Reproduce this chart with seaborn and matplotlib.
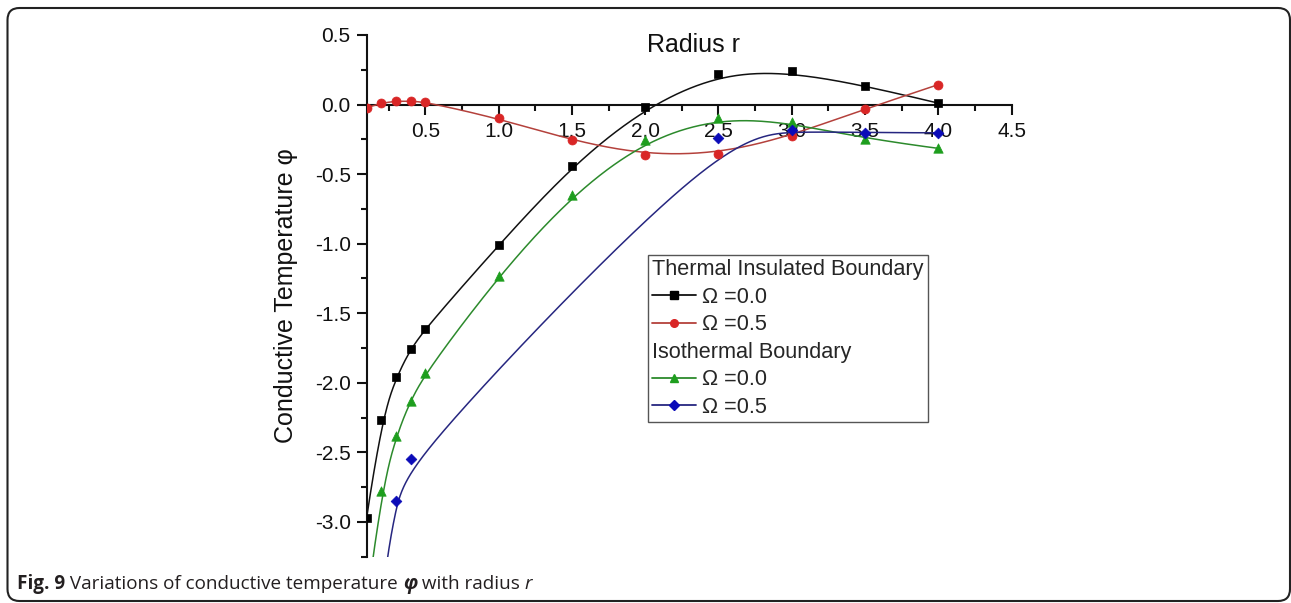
import numpy as np
import pandas as pd
import matplotlib
matplotlib.use("Agg")
import matplotlib.pyplot as plt
from matplotlib.lines import Line2D
from matplotlib.patches import FancyBboxPatch
from matplotlib.ticker import MultipleLocator, FixedLocator
import seaborn as sns

# ---- data -------------------------------------------------------------
r_ins = [0.1, 0.2, 0.3, 0.4, 0.5, 1.0, 1.5, 2.0, 2.5, 3.0, 3.5, 4.0]
phi_ins_00 = [-2.97, -2.27, -1.96, -1.76, -1.61, -1.01, -0.44, -0.02, 0.22, 0.24, 0.136, 0.01]
phi_ins_05 = [-0.024, 0.012, 0.024, 0.024, 0.019, -0.10, -0.258, -0.363, -0.353, -0.227, -0.031, 0.143]

r_iso_00 = [0.1, 0.2, 0.3, 0.4, 0.5, 1.0, 1.5, 2.0, 2.5, 3.0, 3.5, 4.0]
phi_iso_00 = [-3.6, -2.78, -2.38, -2.13, -1.93, -1.23, -0.65, -0.256, -0.095, -0.127, -0.246, -0.315]

r_iso_05 = [0.1, 0.2, 0.3, 0.4, 2.5, 3.0, 3.5, 4.0]
phi_iso_05 = [-4.6, -3.5, -2.85, -2.55, -0.244, -0.186, -0.203, -0.203]

x_ticks = [0.5, 1.0, 1.5, 2.0, 2.5, 3.0, 3.5, 4.0, 4.5]
y_ticks = [0.5, 0.0, -0.5, -1.0, -1.5, -2.0, -2.5, -3.0]

group_titles = ["Thermal Insulated Boundary", "Isothermal Boundary"]
omega_labels = ["\u03a9 =0.0", "\u03a9 =0.5"]


def bspline(xs, ys, n=600, k=3):
    """Clamped uniform cubic B-spline using the data points as control points."""
    P = np.column_stack([xs, ys]).astype(float)
    m = len(P)
    knots = np.concatenate([np.zeros(k), np.linspace(0, 1, m - k + 1), np.ones(k)])
    t = np.linspace(0, 1, n)
    N = np.zeros((n, len(knots) - 1))
    for i in range(len(knots) - 1):
        N[:, i] = (knots[i] <= t) & (t < knots[i + 1])
    N[-1, m - 1] = 1.0
    for d in range(1, k + 1):
        Nn = np.zeros((n, len(knots) - 1 - d))
        for i in range(len(knots) - 1 - d):
            a = knots[i + d] - knots[i]
            b = knots[i + d + 1] - knots[i + 1]
            left = (t - knots[i]) / a * N[:, i] if a > 0 else 0.0
            right = (knots[i + d + 1] - t) / b * N[:, i + 1] if b > 0 else 0.0
            Nn[:, i] = left + right
        N = Nn
    C = N[:, :m] @ P
    return C[:, 0], C[:, 1]


series = [
    dict(x=r_ins, y=phi_ins_00, line="#111111", face="#000000", marker="s", s=34),
    dict(x=r_ins, y=phi_ins_05, line="#B4413C", face="#D92626", marker="o", s=42),
    dict(x=r_iso_00, y=phi_iso_00, line="#2C8A2C", face="#1E9E1E", marker="^", s=46),
    dict(x=r_iso_05, y=phi_iso_05, line="#262680", face="#0B0BB8", marker="D", s=30),
]

# ---- figure -----------------------------------------------------------
sns.set_theme(style="white")
plt.rcParams["font.family"] = ["Liberation Sans", "DejaVu Sans"]

fig = plt.figure(figsize=(12.91, 6.03), dpi=100)
ax = fig.add_axes([0.2840, 0.0768, 0.4996, 0.8652])

for sdef in series:
    cx, cy = bspline(sdef["x"], sdef["y"])
    curve = pd.DataFrame({"r": cx, "phi": cy})
    sns.lineplot(data=curve, x="r", y="phi", sort=False, estimator=None,
                 color=sdef["line"], linewidth=1.1, ax=ax, zorder=3)
    pts = pd.DataFrame({"r": sdef["x"], "phi": sdef["y"]})
    sns.scatterplot(data=pts, x="r", y="phi", marker=sdef["marker"], s=sdef["s"],
                    color=sdef["face"], edgecolor=sdef["face"], linewidth=0.5,
                    ax=ax, zorder=4)

ax.set_xlim(0.1, 4.5)
ax.set_ylim(-3.25, 0.5)

# axes crossing at phi = 0
ax.spines["top"].set_visible(False)
ax.spines["right"].set_visible(False)
ax.spines["bottom"].set_position(("data", 0.0))
for side in ("left", "bottom"):
    ax.spines[side].set_linewidth(1.5)
    ax.spines[side].set_color("#111111")

ax.xaxis.set_major_locator(FixedLocator(x_ticks))
ax.xaxis.set_minor_locator(MultipleLocator(0.25))
ax.yaxis.set_major_locator(FixedLocator(y_ticks))
ax.yaxis.set_minor_locator(MultipleLocator(0.25))
ax.set_xticklabels([f"{v:.1f}" for v in x_ticks])
ax.set_yticklabels([f"{v:.1f}" for v in y_ticks])
ax.tick_params(which="both", direction="out", color="#111111", width=1.5,
               bottom=True, left=True, top=False, right=False)
ax.tick_params(which="major", length=7.5, labelsize=15, labelcolor="#111111")
ax.tick_params(which="minor", length=4)
ax.tick_params(axis="x", which="major", pad=5)
ax.tick_params(axis="y", which="major", pad=4)

ax.set_xlabel("Radius r", fontsize=18, color="#111111")
ax.xaxis.set_label_position("top")
ax.xaxis.set_label_coords(0.507, 0.967)
ax.set_ylabel("Conductive Temperature \u03c6", fontsize=18, color="#111111")
ax.yaxis.set_label_coords(-0.106, 0.5)
ax.grid(False)

# ---- legend with two group headers -----------------------------------
blank = Line2D([], [], linestyle="none", marker="none")
handles = [blank]
labels = [group_titles[0]]
for sdef, lab in zip(series[:2], omega_labels):
    handles.append(Line2D([], [], color=sdef["line"], lw=1.3, marker=sdef["marker"],
                          markersize=5.5, markerfacecolor=sdef["face"],
                          markeredgecolor=sdef["face"]))
    labels.append(lab)
handles.append(blank)
labels.append(group_titles[1])
for sdef, lab in zip(series[2:], omega_labels):
    handles.append(Line2D([], [], color=sdef["line"], lw=1.3, marker=sdef["marker"],
                          markersize=5.5, markerfacecolor=sdef["face"],
                          markeredgecolor=sdef["face"]))
    labels.append(lab)

leg = ax.legend(handles, labels, loc="upper left",
                bbox_to_anchor=(648 / 1291, 1 - 255 / 603),
                bbox_transform=fig.transFigure, borderaxespad=0,
                fontsize=15.6, frameon=True, fancybox=False, framealpha=1,
                edgecolor="#555555", handlelength=2.0, handletextpad=0.3,
                labelspacing=0.3, borderpad=0.2)
leg.get_frame().set_linewidth(1.0)
for col in leg._legend_handle_box.get_children():
    for row in col.get_children():
        da, ta = row.get_children()
        if ta._text.get_text() in group_titles:
            da.width = 0
            row.sep = 0

# ---- frame and caption ------------------------------------------------
px = 1 / 100.0
box = FancyBboxPatch((7.5 * px, (603 - 601) * px), (1290 - 7.5) * px, (601 - 8) * px,
                     boxstyle="round,pad=0,rounding_size=0.12",
                     transform=fig.dpi_scale_trans, fill=False,
                     edgecolor="#222222", linewidth=1.5, clip_on=False)
fig.patches.append(box)

cap_font = ["Open Sans", "DejaVu Sans"]
cap_color = "#231F20"
cap_size = 13.6
parts = [
    ("Fig. 9", dict(fontweight="bold")),
    (" Variations of conductive temperature ", dict()),
    ("\u03c6", dict(fontweight="bold", fontstyle="italic")),
    (" with radius ", dict()),
    ("r", dict(fontstyle="italic")),
]
prev = fig.text(17 / 1291, 1 - 589 / 603, parts[0][0], fontsize=cap_size,
                family=cap_font, color=cap_color, va="baseline", ha="left",
                **parts[0][1])
for txt, kw in parts[1:]:
    prev = fig.text(0, 0, txt, fontsize=cap_size, family=cap_font, color=cap_color,
                    va="baseline", ha="left", **kw)
    prev.set_visible(False)
# chain caption pieces one after another along the baseline
fig.canvas.draw()
renderer = fig.canvas.get_renderer()
texts = [t for t in fig.texts]
x_px = texts[0].get_window_extent(renderer).x1
y_fig = texts[0].get_position()[1]
for t in texts[1:]:
    t.set_position((x_px / fig.bbox.width, y_fig))
    t.set_visible(True)
    x_px = t.get_window_extent(renderer).x1

fig.savefig("out.png", dpi=100)
